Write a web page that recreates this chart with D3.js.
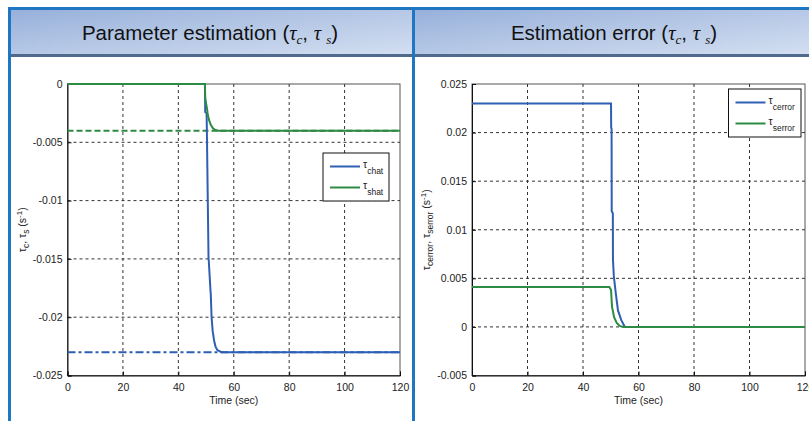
<!DOCTYPE html>
<html><head><meta charset="utf-8">
<script src="https://cdn.jsdelivr.net/npm/d3@7"></script>
<style>body{margin:0;background:#fff;}svg{display:block;}</style>
</head><body>
<script>
// ---------- data ----------
const xTicks = [0, 20, 40, 60, 80, 100, 120];
const xDomain = [0, 120];
const leftYTicks = [0, -0.005, -0.01, -0.015, -0.02, -0.025];
const leftYTickLabels = ["0", "-0.005", "-0.01", "-0.015", "-0.02", "-0.025"];
const leftYDomain = [-0.025, 0];
const rightYTicks = [0.025, 0.02, 0.015, 0.01, 0.005, 0, -0.005];
const rightYTickLabels = ["0.025", "0.02", "0.015", "0.01", "0.005", "0", "-0.005"];
const rightYDomain = [-0.005, 0.025];

// estimates (left)
const chatTime = [0, 49.6, 49.7, 50.2, 50.3, 50.9, 51.0, 51.6, 51.7, 52.0, 52.4, 52.9, 53.4, 54.0, 54.8, 55.6, 120];
const chatVal  = [0, 0, -0.0024, -0.0025, -0.004, -0.0150, -0.0152, -0.0177, -0.0180, -0.0200, -0.0212, -0.0220, -0.0225, -0.0228, -0.0229, -0.0230, -0.0230];
const shatTime = [0, 49.6, 49.7, 50.4, 50.6, 51.1, 51.7, 52.5, 53.4, 54.4, 120];
const shatVal  = [0, 0, -0.0012, -0.0022, -0.0026, -0.0031, -0.0035, -0.0038, -0.00395, -0.0040, -0.0040];
// true values (dashed)
const refTime = [0, 120];
const chatTrue = [-0.023, -0.023];
const shatTrue = [-0.004, -0.004];

// errors (right)
const cerrTime = [0, 50.1, 50.15, 50.3, 50.35, 50.75, 50.8, 51.1, 51.2, 51.8, 52.6, 53.8, 55.1, 120];
const cerrVal  = [0.023, 0.023, 0.0205, 0.0204, 0.0119, 0.0117, 0.0069, 0.0053, 0.0050, 0.0035, 0.0017, 0.0007, 0, 0];
const serrTime = [0, 49.5, 50.1, 50.45, 51.2, 52.15, 53.2, 54.5, 120];
const serrVal  = [0.0041, 0.0041, 0.0038, 0.0021, 0.0010, 0.0004, 0.0001, 0, 0];

// ---------- drawing ----------
const W = 809, H = 421;
const BLUE = "#2f5fb3", GREEN = "#2e8b43";
const svg = d3.select("body").append("svg").attr("width", W).attr("height", H);

const defs = svg.append("defs");
const grad = defs.append("linearGradient").attr("id", "hdr").attr("x1", "0").attr("y1", "0").attr("x2", "1").attr("y2", "1");
grad.append("stop").attr("offset", "0").attr("stop-color", "#97b0da");
grad.append("stop").attr("offset", "1").attr("stop-color", "#d3dff1");

// headers
[[10, 403], [414, 395]].forEach(([x, w]) => {
  svg.append("rect").attr("x", x).attr("y", 9).attr("width", w).attr("height", 45).attr("fill", "url(#hdr)");
  svg.append("rect").attr("x", x).attr("y", 54).attr("width", w).attr("height", 3).attr("fill", "#4f6a8c");
});
// frame lines
svg.append("rect").attr("x", 8).attr("y", 7).attr("width", W - 8).attr("height", 3).attr("fill", "#1f77c4");
svg.append("rect").attr("x", 8).attr("y", 7).attr("width", 3).attr("height", H - 7).attr("fill", "#1f77c4");
svg.append("rect").attr("x", 412).attr("y", 7).attr("width", 3).attr("height", H - 7).attr("fill", "#1f77c4");

function title(cx, main) {
  const t = svg.append("text").attr("x", cx).attr("y", 40).attr("text-anchor", "middle")
    .attr("font-family", "Liberation Sans, Arial, sans-serif").attr("font-size", 20.5).attr("fill", "#111");
  t.append("tspan").text(main + " (");
  t.append("tspan").attr("font-family", "Liberation Serif, serif").attr("font-style", "italic").text("τ");
  t.append("tspan").attr("font-family", "Liberation Serif, serif").attr("font-style", "italic").attr("font-size", 13).attr("dy", 4).text("c");
  t.append("tspan").attr("dy", -4).text(", ");
  t.append("tspan").attr("font-family", "Liberation Serif, serif").attr("font-style", "italic").text("τ ");
  t.append("tspan").attr("font-family", "Liberation Serif, serif").attr("font-style", "italic").attr("font-size", 13).attr("dy", 4).text("s");
  t.append("tspan").attr("dy", -4).text(")");
}
title(210, "Parameter estimation");
title(614, "Estimation error");

const FONT = "Liberation Sans, Arial, sans-serif";

function panel(opt) {
  const x = d3.scaleLinear().domain(xDomain).range([opt.x0, opt.x1]);
  const y = d3.scaleLinear().domain(opt.yDomain).range([opt.y1, opt.y0]);
  const g = svg.append("g");
  g.append("rect").attr("x", opt.x0).attr("y", opt.y0).attr("width", opt.x1 - opt.x0).attr("height", opt.y1 - opt.y0)
    .attr("fill", "#fff").attr("stroke", "#555").attr("stroke-width", 1);
  // grid
  xTicks.slice(1, -1).forEach(v => {
    g.append("line").attr("x1", x(v)).attr("x2", x(v)).attr("y1", opt.y0).attr("y2", opt.y1)
      .attr("stroke", "#333").attr("stroke-width", 1).attr("stroke-dasharray", "3,3");
  });
  opt.yTicks.forEach(v => {
    if (v === opt.yDomain[0] || v === opt.yDomain[1]) return;
    g.append("line").attr("x1", opt.x0).attr("x2", opt.x1).attr("y1", y(v)).attr("y2", y(v))
      .attr("stroke", "#333").attr("stroke-width", 1).attr("stroke-dasharray", "3,3");
  });
  // axes
  const xa = g.append("g").attr("transform", `translate(0,${opt.y1})`)
    .call(d3.axisBottom(x).tickValues(xTicks).tickSize(-4).tickPadding(8).tickFormat(d3.format("d")));
  const ya = g.append("g").attr("transform", `translate(${opt.x0},0)`)
    .call(d3.axisLeft(y).tickValues(opt.yTicks).tickSize(-4).tickPadding(5).tickFormat((d, i) => opt.yLabels[i]));
  [xa, ya].forEach(a => {
    a.select(".domain").attr("stroke", "#111");
    a.selectAll(".tick line").attr("stroke", "#111");
    a.selectAll("text").attr("font-family", FONT).attr("font-size", 10.5).attr("fill", "#222");
  });
  g.append("text").attr("x", (opt.x0 + opt.x1) / 2).attr("y", 404).attr("text-anchor", "middle")
    .attr("font-family", FONT).attr("font-size", 10.5).attr("fill", "#222").text("Time (sec)");

  const line = d3.line().x(d => x(d[0])).y(d => y(d[1]));
  opt.series.forEach(s => {
    g.append("path").datum(s.t.map((t, i) => [t, s.v[i]])).attr("d", line)
      .attr("fill", "none").attr("stroke", s.color).attr("stroke-width", 2)
      .attr("stroke-dasharray", s.dash || null);
  });

  // y label
  const yl = g.append("text").attr("transform", `translate(${opt.ylx},${(opt.y0 + opt.y1) / 2}) rotate(-90)`)
    .attr("text-anchor", "middle").attr("font-family", FONT).attr("font-size", 10.5).attr("fill", "#222");
  yl.append("tspan").text("τ");
  yl.append("tspan").attr("font-size", 8.5).attr("dy", 3).text(opt.sub[0]);
  yl.append("tspan").attr("dy", -3).text(", τ");
  yl.append("tspan").attr("font-size", 8.5).attr("dy", 3).text(opt.sub[1]);
  yl.append("tspan").attr("dy", -3).text(" (s");
  yl.append("tspan").attr("font-size", 8).attr("dy", -4).text("-1");
  yl.append("tspan").attr("dy", 4).text(")");

  // legend
  const L = opt.legend;
  g.append("rect").attr("x", L.x).attr("y", L.y).attr("width", L.w).attr("height", L.h)
    .attr("fill", "#fff").attr("stroke", "#111").attr("stroke-width", 1);
  L.items.forEach((it, i) => {
    const ly = L.y + 13.5 + i * 21;
    g.append("line").attr("x1", L.x + 7).attr("x2", L.x + 37).attr("y1", ly).attr("y2", ly)
      .attr("stroke", it.color).attr("stroke-width", 2);
    const t = g.append("text").attr("x", L.x + 40).attr("y", ly + 1).attr("font-family", FONT)
      .attr("font-size", 10.5).attr("fill", "#222");
    t.append("tspan").text("τ");
    t.append("tspan").attr("font-size", 8.5).attr("dy", 6).text(it.sub);
  });
}

panel({
  x0: 67.5, x1: 400, y0: 84, y1: 375.5,
  yDomain: leftYDomain, yTicks: leftYTicks, yLabels: leftYTickLabels,
  ylx: 26, sub: ["c", "s"],
  series: [
    { t: refTime, v: chatTrue, color: BLUE, dash: "8,3,3,3" },
    { t: refTime, v: shatTrue, color: GREEN, dash: "6,3" },
    { t: chatTime, v: chatVal, color: BLUE },
    { t: shatTime, v: shatVal, color: GREEN }
  ],
  legend: { x: 323, y: 153, w: 66, h: 48, items: [{ color: BLUE, sub: "chat" }, { color: GREEN, sub: "shat" }] }
});

panel({
  x0: 472, x1: 805, y0: 84, y1: 375.5,
  yDomain: rightYDomain, yTicks: rightYTicks, yLabels: rightYTickLabels,
  ylx: 430, sub: ["cerror", "serror"],
  series: [
    { t: cerrTime, v: cerrVal, color: BLUE },
    { t: serrTime, v: serrVal, color: GREEN }
  ],
  legend: { x: 728.5, y: 89, w: 72.5, h: 48, items: [{ color: BLUE, sub: "cerror" }, { color: GREEN, sub: "serror" }] }
});
</script>
</body></html>
